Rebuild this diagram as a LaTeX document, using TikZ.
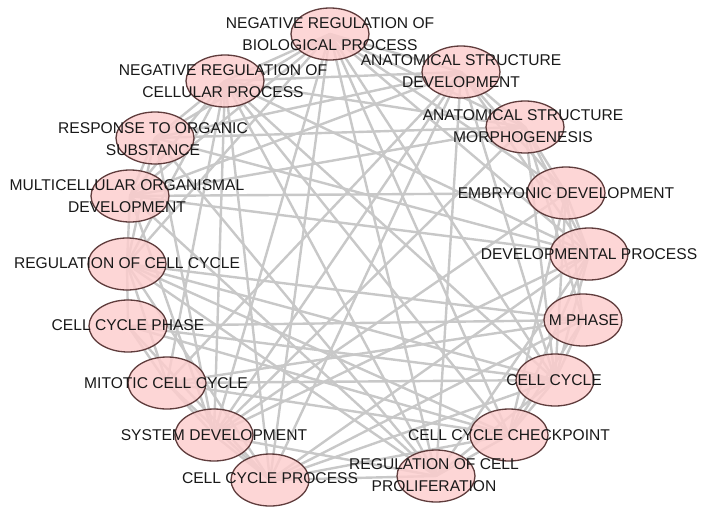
\documentclass[tikz,border=0pt]{standalone}
\usepackage{fontspec}
\setmainfont{Liberation Sans}
\usetikzlibrary{shapes.geometric}
\pgfdeclarelayer{back}
\pgfdeclarelayer{bg}
\pgfsetlayers{back,bg,main}
\definecolor{edgegray}{RGB}{200,200,200}
\definecolor{nodefill}{RGB}{253,205,205}
\definecolor{nodeline}{RGB}{95,60,60}
\definecolor{txt}{RGB}{25,25,25}
\tikzset{
  term/.style={ellipse,draw=nodeline,line width=1.3pt,fill=nodefill,fill opacity=0.82,
    minimum width=78pt,minimum height=52pt,inner sep=0pt},
  lbl/.style={text=txt,align=center,font=\fontsize{15.6}{21.5}\selectfont,inner sep=0pt,text opacity=1},
  link/.style={draw=edgegray,line width=2.4pt}
}
\begin{document}
\begin{tikzpicture}[x=1pt,y=-1pt]
\useasboundingbox (0,0) rectangle (708,514);
\begin{pgfonlayer}{back}
\fill[white] (0,0) rectangle (708,514);
\end{pgfonlayer}
\node[term] (nrbp) at (330,34) {};
\node[term] (asd) at (461,72) {};
\node[term] (asm) at (525,127) {};
\node[term] (emb) at (566,193) {};
\node[term] (dev) at (589,254) {};
\node[term] (mph) at (583,320) {};
\node[term] (cc) at (555,380) {};
\node[term] (chk) at (509,435) {};
\node[term] (rcp) at (436,476) {};
\node[term] (ccp) at (270,480) {};
\node[term] (sys) at (214,435) {};
\node[term] (mit) at (167,383) {};
\node[term] (ccph) at (128,326) {};
\node[term] (rcc) at (127,264) {};
\node[term] (mul) at (130,196) {};
\node[term] (resp) at (155,138) {};
\node[term] (nrcp) at (225,81) {};
\begin{pgfonlayer}{bg}
\foreach \a/\b in {
 mph/cc,mph/chk,mph/ccp,mph/mit,mph/ccph,mph/rcc,
 cc/chk,cc/ccp,cc/mit,cc/ccph,cc/rcc,
 chk/ccp,chk/mit,chk/ccph,chk/rcc,
 ccp/mit,ccp/ccph,ccp/rcc,
 mit/ccph,mit/rcc,ccph/rcc,
 asd/asm,asd/emb,asd/dev,asd/sys,asd/mul,
 asm/emb,asm/dev,asm/sys,asm/mul,
 emb/dev,emb/sys,emb/mul,
 dev/sys,dev/mul,sys/mul,
 nrbp/nrcp,nrbp/rcp,nrcp/rcp,resp/nrbp,resp/nrcp,resp/rcp,
 nrbp/asd,nrbp/asm,nrbp/emb,nrbp/dev,nrbp/sys,nrbp/mul,nrbp/rcc,nrbp/cc,nrbp/ccp,nrbp/chk,
 nrcp/asd,nrcp/asm,nrcp/dev,nrcp/sys,nrcp/mul,nrcp/rcc,nrcp/cc,nrcp/ccp,nrcp/chk,nrcp/mit,
 rcp/asd,rcp/dev,rcp/sys,rcp/mul,rcp/rcc,rcp/cc,rcp/chk,rcp/ccp,
 resp/asd,resp/dev,resp/sys,resp/mul,resp/rcc,resp/asm,
 dev/cc,dev/ccp,sys/ccp,sys/mit,emb/cc,asm/cc,asd/ccp,asd/mit,
 mph/emb,mph/asm,cc/asd,chk/emb,chk/dev,mul/rcc}
 {\draw[link] (\a.center) -- (\b.center);}
\end{pgfonlayer}
\node[lbl] (nrbp-t) at (nrbp) {NEGATIVE REGULATION OF\\BIOLOGICAL PROCESS};
\node[lbl] (asd-t) at (461,71) {ANATOMICAL STRUCTURE\\DEVELOPMENT};
\node[lbl] (asm-t) at (523,126) {ANATOMICAL STRUCTURE\\MORPHOGENESIS};
\node[lbl] (emb-t) at (566,193) {EMBRYONIC DEVELOPMENT};
\node[lbl] (dev-t) at (589,254) {DEVELOPMENTAL PROCESS};
\node[lbl] (mph-t) at (584,320) {M PHASE};
\node[lbl] (cc-t) at (554,380) {CELL CYCLE};
\node[lbl] (chk-t) at (509,435) {CELL CYCLE CHECKPOINT};
\node[lbl] (rcp-t) at (434,475) {REGULATION OF CELL\\PROLIFERATION};
\node[lbl] (ccp-t) at (270,478) {CELL CYCLE PROCESS};
\node[lbl] (sys-t) at (214,435) {SYSTEM DEVELOPMENT};
\node[lbl] (mit-t) at (166,383) {MITOTIC CELL CYCLE};
\node[lbl] (ccph-t) at (128,325) {CELL CYCLE PHASE};
\node[lbl] (rcc-t) at (127,263) {REGULATION OF CELL CYCLE};
\node[lbl] (mul-t) at (127,196) {MULTICELLULAR ORGANISMAL\\DEVELOPMENT};
\node[lbl] (resp-t) at (153,139) {RESPONSE TO ORGANIC\\SUBSTANCE};
\node[lbl] (nrcp-t) at (223,81) {NEGATIVE REGULATION OF\\CELLULAR PROCESS};
\end{tikzpicture}
\end{document}
